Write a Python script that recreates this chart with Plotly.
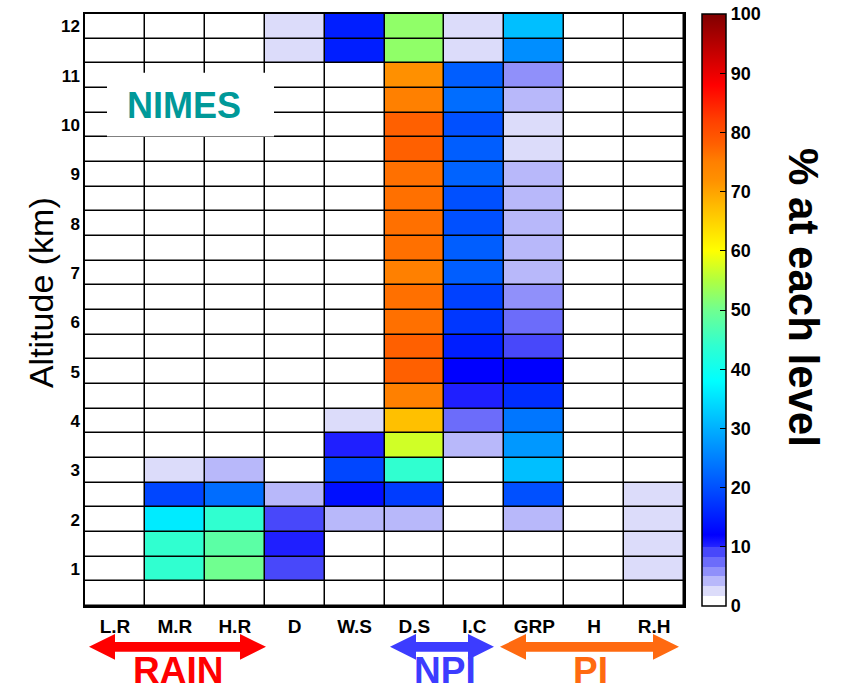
import plotly.graph_objects as go

# Hydrometeor classes (columns) and altitude bins in km (rows, bottom to top)
classes = ["L.R", "M.R", "H.R", "D", "W.S", "D.S", "I.C", "GRP", "H", "R.H"]
altitudes = [0.5, 1.0, 1.5, 2.0, 2.5, 3.0, 3.5, 4.0, 4.5, 5.0, 5.5, 6.0,
             6.5, 7.0, 7.5, 8.0, 8.5, 9.0, 9.5, 10.0, 10.5, 11.0, 11.5, 12.0]

# Percentage of each class at each level, listed from 0.5 km up to 12 km
pct_LR = [0] * 24
pct_MR = [0, 44, 44, 36, 19, 2.5, 0, 0, 0, 0, 0, 0,
          0, 0, 0, 0, 0, 0, 0, 0, 0, 0, 0, 0]
pct_HR = [0, 50, 48, 44, 23, 4, 0, 0, 0, 0, 0, 0,
          0, 0, 0, 0, 0, 0, 0, 0, 0, 0, 0, 0]
pct_D = [0, 9, 10.3, 9, 4, 0, 0, 0, 0, 0, 0, 0,
         0, 0, 0, 0, 0, 0, 0, 0, 0, 0, 2.5, 2.5]
pct_WS = [0, 0, 0, 4, 13.5, 19, 10.3, 2.5, 0, 0, 0, 0,
          0, 0, 0, 0, 0, 0, 0, 0, 0, 0, 15, 15]
pct_DS = [0, 0, 0, 4, 18, 44, 57, 67, 75, 78, 78, 76.5,
          76.5, 75, 76.5, 76.5, 76.5, 76.5, 78, 78, 75, 72, 52.5, 52.5]
pct_IC = [0, 0, 0, 0, 0, 0, 4, 7.5, 10.3, 12, 15, 17.5,
          18.5, 21.5, 21.5, 20, 20, 22, 21.5, 20, 23, 21.5, 2.5, 2.5]
pct_GRP = [0, 0, 0, 4, 20, 31.5, 27.5, 24, 16.5, 12, 9, 7.5,
           5.8, 4, 4, 4, 4, 4, 2.5, 2.5, 4, 5.8, 26.5, 31.5]
pct_H = [0] * 24
pct_RH = [0, 2.5, 2.5, 2.5, 2.5, 0, 0, 0, 0, 0, 0, 0,
          0, 0, 0, 0, 0, 0, 0, 0, 0, 0, 0, 0]

columns = [pct_LR, pct_MR, pct_HR, pct_D, pct_WS, pct_DS, pct_IC, pct_GRP, pct_H, pct_RH]
z = [[col[i] for col in columns] for i in range(len(altitudes))]

y_ticks = list(range(1, 13))
cbar_ticks = list(range(0, 101, 10))

# Palette: stepped light blues below 10 %, then a jet-like ramp
colorscale = [
    [0.0, "#ffffff"], [0.0167, "#ffffff"],
    [0.0167, "#dcdcfa"], [0.0333, "#dcdcfa"],
    [0.0333, "#b8b8fa"], [0.05, "#b8b8fa"],
    [0.05, "#9090fa"], [0.0667, "#9090fa"],
    [0.0667, "#6c6cfa"], [0.0833, "#6c6cfa"],
    [0.0833, "#4848fa"], [0.10, "#4848fa"],
    [0.10, "#2424ff"], [0.12, "#0000ff"], [0.20, "#0050ff"],
    [0.30, "#00b0ff"], [0.38, "#00ffff"], [0.44, "#30ffd0"],
    [0.50, "#70ff90"], [0.55, "#b0ff40"], [0.60, "#ffff00"],
    [0.67, "#ffc000"], [0.72, "#ff9000"], [0.75, "#ff8000"],
    [0.78, "#ff6000"], [0.82, "#ff4000"], [0.88, "#ff0000"],
    [0.94, "#c00000"], [1.0, "#800000"],
]

W, H = 843, 690
L, R, T, B = 85, 159, 12, 84
PW, PH = W - L - R, H - T - B


def px(xp):
    return (xp - L) / PW


def py(yp):
    return (T + PH - yp) / PH


BOLD = dict(family="Liberation Sans, Arial, sans-serif", color="black", weight="bold")

fig = go.Figure(go.Heatmap(
    x=classes, y=altitudes, z=z,
    zmin=0, zmax=100, colorscale=colorscale,
    xgap=1.5, ygap=1.5,
    colorbar=dict(
        x=px(702), xanchor="left", xpad=0, thickness=24,
        len=1, lenmode="fraction", y=0.5, yanchor="middle", ypad=0,
        outlinewidth=1.5, outlinecolor="black",
        tickvals=cbar_ticks, ticks="inside", ticklen=6, tickcolor="black",
        tickwidth=1.2, tickfont=dict(size=18, **BOLD),
    ),
))

fig.update_xaxes(
    type="category", range=[-0.5, 9.5], showgrid=False, zeroline=False,
    showline=True, linecolor="black", linewidth=1.5, mirror=True,
    ticks="outside", ticklen=2, tickcolor="rgba(0,0,0,0)",
    tickfont=dict(size=19, **BOLD),
)
fig.update_yaxes(
    range=[0.25, 12.25], tickvals=y_ticks, showgrid=False, zeroline=False,
    showline=True, linecolor="black", linewidth=1.5, mirror=True,
    ticks="", tickfont=dict(size=17, **BOLD),
)


def double_arrow(xa, xb, yc, hl=26, hh=13, st=5):
    pts = [(xa, yc), (xa + hl, yc - hh), (xa + hl, yc - st), (xb - hl, yc - st),
           (xb - hl, yc - hh), (xb, yc), (xb - hl, yc + hh), (xb - hl, yc + st),
           (xa + hl, yc + st), (xa + hl, yc + hh)]
    return "M " + " L ".join(f"{px(a):.5f},{py(b):.5f}" for a, b in pts) + " Z"


shapes = [
    dict(type="rect", xref="paper", yref="paper", x0=px(107), x1=px(274),
         y0=py(135), y1=py(71), fillcolor="white", line=dict(width=0), layer="above"),
]
groups = [("RAIN", 89, 266, "#ff0000", 178),
          ("NPI", 390, 494, "#3c3cff", 445),
          ("PI", 500, 679, "#ff6a10", 590)]
annotations = [
    dict(text="NIMES", xref="paper", yref="paper", x=px(184), y=py(104),
         xanchor="center", yanchor="middle", showarrow=False,
         font=dict(size=36, family="Liberation Sans, Arial",
                   color="#009999", weight="bold")),
    dict(text="Altitude (km)", xref="paper", yref="paper", x=px(41), y=py(292),
         xanchor="center", yanchor="middle", textangle=-90, showarrow=False,
         font=dict(size=34, family="Liberation Sans, Arial", color="black")),
    dict(text="% at each level", xref="paper", yref="paper", x=px(804), y=py(296),
         xanchor="center", yanchor="middle", textangle=90, showarrow=False,
         font=dict(size=42, **BOLD)),
]
for name, xa, xb, color, xc in groups:
    shapes.append(dict(type="path", xref="paper", yref="paper",
                       path=double_arrow(xa, xb, 647), fillcolor=color,
                       line=dict(width=0), layer="above"))
    annotations.append(dict(
        text=name, xref="paper", yref="paper", x=px(xc), y=py(671),
        xanchor="center", yanchor="middle", showarrow=False,
        font=dict(size=37, family="Liberation Sans Narrow, Liberation Sans, Arial",
                  color=color, weight="bold")))

fig.update_layout(
    width=W, height=H, autosize=False,
    margin=dict(l=L, r=R, t=T, b=B),
    paper_bgcolor="white", plot_bgcolor="black",
    shapes=shapes, annotations=annotations,
)

fig.write_html("out.html")
